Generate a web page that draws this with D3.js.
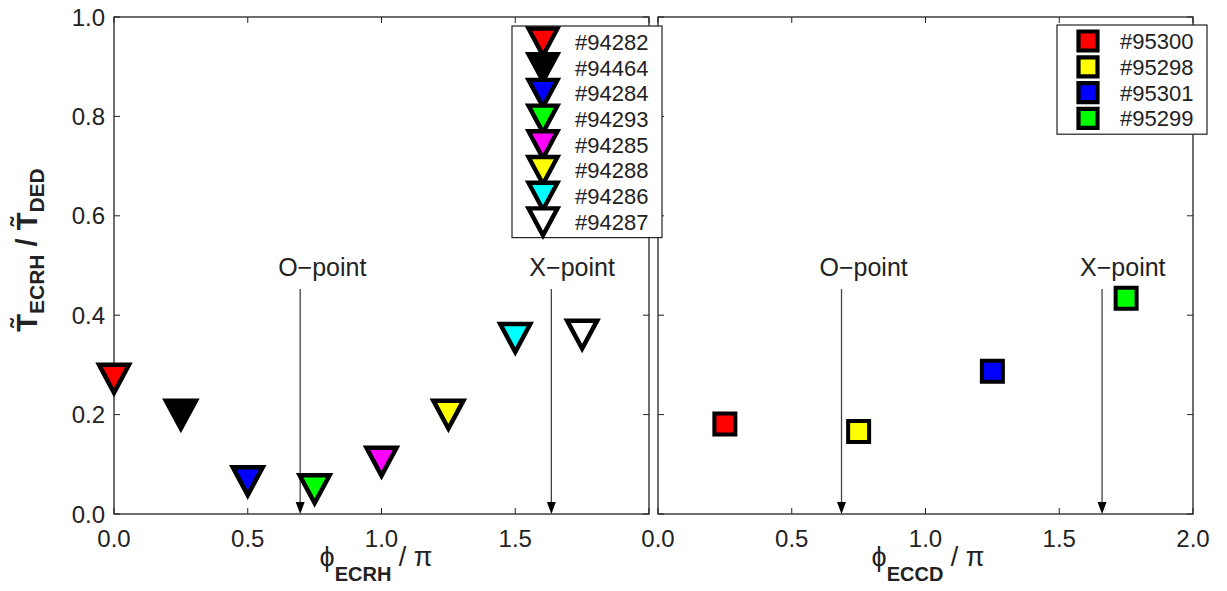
<!DOCTYPE html>
<html>
<head>
<meta charset="utf-8">
<script src="https://cdn.jsdelivr.net/npm/d3@7"></script>
<style>
  body { margin: 0; background: #fff; }
  text { font-family: "Liberation Sans", Arial, sans-serif; }
</style>
</head>
<body>
<div id="chart"></div>
<script>
// ECRH scan (left panel)
var phiECRH = [0, 0.25, 0.5, 0.75, 1.0, 1.25, 1.5, 1.75];
var tECRH = [0.272, 0.2, 0.066, 0.05, 0.105, 0.2, 0.354, 0.361];
var shotsECRH = ["#94282", "#94464", "#94284", "#94293", "#94285", "#94288", "#94286", "#94287"];
var colorsECRH = ["#ff0000", "#000000", "#0000ff", "#00ff00", "#ff00ff", "#ffff00", "#00ffff", "#ffffff"];

// ECCD scan (right panel)
var phiECCD = [0.25, 0.75, 1.25, 1.75];
var tECCD = [0.181, 0.166, 0.287, 0.434];
var shotsECCD = ["#95300", "#95298", "#95301", "#95299"];
var colorsECCD = ["#ff0000", "#ffff00", "#0000ff", "#00ff00"];

// O-point / X-point markers
var pointNames = ["O\u2212point", "X\u2212point"];
var pointsECRH = [0.696, 1.635];
var pointsECCD = [0.686, 1.66];

var yTicks = [0, 0.2, 0.4, 0.6, 0.8, 1.0];
var xTicks = [0, 0.5, 1.0, 1.5, 2.0];
var xLabelsLeft = [0, 0.5, 1.0, 1.5];
var xLabelsRight = [0, 0.5, 1.0, 1.5, 2.0];

var width = 1227, height = 591;
var plotTop = 17, plotBottom = 514;

var svg = d3.select("#chart").append("svg")
  .attr("width", width)
  .attr("height", height)
  .attr("viewBox", [0, 0, width, height]);

var y = d3.scaleLinear().domain([0, 1]).range([plotBottom, plotTop]);

// downward triangle, centered on its bounding box
var triDown = {
  draw: function (ctx, size) {
    var w = Math.sqrt(size), h = w * 0.93;
    ctx.moveTo(-w / 2, -h / 2);
    ctx.lineTo(w / 2, -h / 2);
    ctx.lineTo(0, h / 2);
    ctx.closePath();
  }
};
var squareType = {
  draw: function (ctx, size) {
    var s = Math.sqrt(size);
    ctx.rect(-s / 2, -s / 2, s, s);
  }
};

function panel(x0, x1, labels) {
  var x = d3.scaleLinear().domain([0, 2]).range([x0, x1]);
  var g = svg.append("g");
  // ticks, inward on all four sides
  var t = g.append("g").attr("stroke", "#222").attr("stroke-width", 1);
  xTicks.forEach(function (v) {
    t.append("line").attr("x1", x(v)).attr("x2", x(v)).attr("y1", plotBottom).attr("y2", plotBottom - 6);
    t.append("line").attr("x1", x(v)).attr("x2", x(v)).attr("y1", plotTop).attr("y2", plotTop + 6);
  });
  yTicks.forEach(function (v) {
    t.append("line").attr("x1", x0).attr("x2", x0 + 6).attr("y1", y(v)).attr("y2", y(v));
    t.append("line").attr("x1", x1).attr("x2", x1 - 6).attr("y1", y(v)).attr("y2", y(v));
  });
  g.append("rect")
    .attr("x", x0).attr("y", plotTop)
    .attr("width", x1 - x0).attr("height", plotBottom - plotTop)
    .attr("fill", "none").attr("stroke", "#222").attr("stroke-width", 1.3);
  g.selectAll(".xl").data(labels).join("text")
    .attr("x", function (d) { return x(d); })
    .attr("y", plotBottom + 33)
    .attr("text-anchor", "middle")
    .attr("font-size", 24)
    .attr("fill", "#222")
    .text(function (d) { return d3.format(".1f")(d); });
  return { x: x, g: g };
}

var left = panel(114, 649, xLabelsLeft);
var right = panel(658, 1193, xLabelsRight);

// y tick labels on the left panel
svg.append("g").selectAll("text").data(yTicks).join("text")
  .attr("x", 105)
  .attr("y", function (d) { return y(d); })
  .attr("dy", "0.36em")
  .attr("text-anchor", "end")
  .attr("font-size", 24)
  .attr("fill", "#222")
  .text(function (d) { return d3.format(".1f")(d); });

function arrows(p, vals) {
  var a = p.g.append("g");
  vals.forEach(function (v, i) {
    var xx = p.x(v);
    a.append("line")
      .attr("x1", xx).attr("x2", xx)
      .attr("y1", 289).attr("y2", plotBottom - 8)
      .attr("stroke", "#444").attr("stroke-width", 1.3);
    a.append("path")
      .attr("d", "M" + (xx - 4.5) + "," + (plotBottom - 12) + "L" + (xx + 4.5) + "," + (plotBottom - 12) + "L" + xx + "," + plotBottom + "Z")
      .attr("fill", "#000");
    a.append("text")
      .attr("x", xx - 22).attr("y", 276)
      .attr("font-size", 25)
      .attr("fill", "#222")
      .text(pointNames[i]);
  });
}
arrows(left, pointsECRH);
arrows(right, pointsECCD);

// markers
var triSym = d3.symbol().type(triDown).size(30 * 30);
var sqSym = d3.symbol().type(squareType).size(21 * 21);

left.g.append("g").selectAll("path").data(phiECRH).join("path")
  .attr("transform", function (d, i) { return "translate(" + left.x(d) + "," + y(tECRH[i]) + ")"; })
  .attr("d", triSym)
  .attr("fill", function (d, i) { return colorsECRH[i]; })
  .attr("stroke", "#000")
  .attr("stroke-width", 4.5)
  .attr("stroke-linejoin", "miter");

right.g.append("g").selectAll("path").data(phiECCD).join("path")
  .attr("transform", function (d, i) { return "translate(" + right.x(d) + "," + y(tECCD[i]) + ")"; })
  .attr("d", sqSym)
  .attr("fill", function (d, i) { return colorsECCD[i]; })
  .attr("stroke", "#000")
  .attr("stroke-width", 4);

// legends
function legend(lx, ly, w, shots, colors, sym, sw, rowH) {
  var lg = svg.append("g");
  lg.append("rect")
    .attr("x", lx).attr("y", ly)
    .attr("width", w).attr("height", shots.length * rowH + 6)
    .attr("fill", "#fff").attr("stroke", "#222").attr("stroke-width", 1.2);
  var rows = lg.selectAll("g").data(shots).join("g")
    .attr("transform", function (d, i) { return "translate(" + lx + "," + (ly + 16 + i * rowH) + ")"; });
  rows.append("path")
    .attr("transform", "translate(31,0)")
    .attr("d", sym)
    .attr("fill", function (d, i) { return colors[i]; })
    .attr("stroke", "#000")
    .attr("stroke-width", sw);
  rows.append("text")
    .attr("x", 63).attr("dy", "0.36em")
    .attr("font-size", 22)
    .attr("fill", "#222")
    .text(function (d) { return d; });
}
legend(512, 26, 150, shotsECRH, colorsECRH, d3.symbol().type(triDown).size(29 * 29), 4.4, 25.7);
legend(1057, 25, 150, shotsECCD, colorsECCD, d3.symbol().type(squareType).size(19 * 19), 4.2, 25.8);

// axis titles
var yl = svg.append("text")
  .attr("transform", "translate(37,250) rotate(-90)")
  .attr("text-anchor", "middle")
  .attr("font-weight", "bold")
  .attr("fill", "#222")
  .attr("font-size", 29);
yl.append("tspan").text("T\u0303");
yl.append("tspan").attr("font-size", 21).attr("dy", 7).text("ECRH");
yl.append("tspan").attr("dy", -7).text(" / T\u0303");
yl.append("tspan").attr("font-size", 21).attr("dy", 7).text("DED");

function xTitle(cx, sub) {
  var t = svg.append("text")
    .attr("x", cx).attr("y", 566)
    .attr("text-anchor", "middle")
    .attr("fill", "#222")
    .attr("font-size", 27);
  t.append("tspan").text("\u03d5");
  t.append("tspan").attr("font-size", 20).attr("font-weight", "bold").attr("dy", 15).text(sub);
  t.append("tspan").attr("dy", -15).text(" / \u03c0");
}
xTitle(376, "ECRH");
xTitle(928, "ECCD");
</script>
</body>
</html>
